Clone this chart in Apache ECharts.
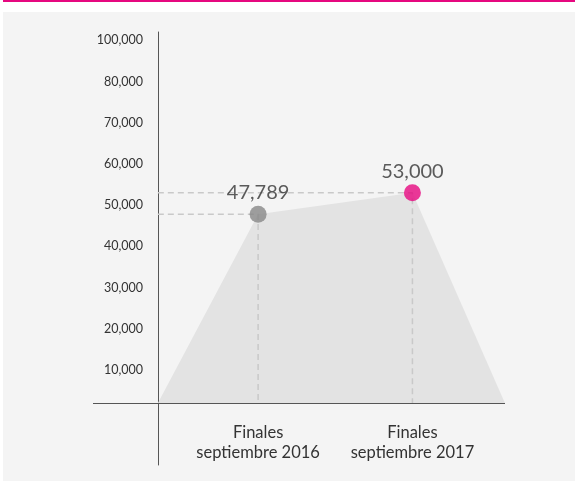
<!DOCTYPE html>
<html>
<head>
<meta charset="utf-8">
<script src="https://cdn.jsdelivr.net/npm/echarts@6/dist/echarts.min.js"></script>
<style>
  html, body { margin: 0; padding: 0; background: #ffffff; }
  #bar { position: absolute; left: 3px; top: 0; width: 572px; height: 2px; background: #e6087f; }
  #panel { position: absolute; left: 3px; top: 12px; width: 572px; height: 469px; background: #f4f4f4; }
  #chart { position: absolute; left: 0; top: 0; width: 575px; height: 481px; }
</style>
</head>
<body>
<div id="bar"></div>
<div id="panel"></div>
<div id="chart"></div>
<script>
// ---- data ----
var categories = ['Finales\nseptiembre 2016', 'Finales\nseptiembre 2017'];
var categoryX = [0.65, 1.65];          // x positions of the two dates on the axis
var values = [47789, 53000];
var pointColors = ['#878787', '#e6087f'];
var startX = 0, endX = 2.25;            // where the shaded shape starts / ends
var baseline = 2000;                     // value where the horizontal axis crosses
var yTickValues = [10000, 20000, 30000, 40000, 50000, 60000, 70000, 80000, 90000];
var yTickLabels = ['10,000', '20,000', '30,000', '40,000', '50,000', '60,000', '70,000', '80,000', '100,000'];

var FONT = 'Lato, "Noto Sans", sans-serif';

var areaData = [[startX, baseline]];
for (var i = 0; i < values.length; i++) areaData.push([categoryX[i], values[i]]);
areaData.push([endX, baseline]);

var series = [{
  type: 'line',
  data: areaData,
  symbol: 'none',
  silent: true,
  lineStyle: { width: 0 },
  areaStyle: { color: '#e3e3e3', opacity: 1, origin: baseline },
  z: 1,
  markLine: {
    silent: true,
    symbol: 'none',
    label: { show: false },
    lineStyle: { type: 'solid', color: '#555555', width: 1 },
    data: [{ yAxis: baseline }]
  }
}];

for (var j = 0; j < values.length; j++) {
  series.push({
    type: 'line',
    data: [[0, values[j]], [categoryX[j], values[j]], [categoryX[j], baseline]],
    symbol: 'none',
    silent: true,
    lineStyle: { color: '#c9c9c9', width: 1.5, type: [6, 4] },
    z: 2
  });
}

series.push({
  type: 'scatter',
  data: values.map(function (v, k) {
    return { value: [categoryX[k], v], itemStyle: { color: pointColors[k] } };
  }),
  symbolSize: 17,
  z: 5,
  label: {
    show: true,
    position: 'top',
    distance: 3,
    fontFamily: FONT,
    fontSize: 20,
    color: '#333333',
    formatter: function (p) { return p.value[1].toLocaleString('en-US'); }
  }
});

var chart = echarts.init(document.getElementById('chart'), null, { renderer: 'canvas' });
chart.setOption({
  backgroundColor: 'transparent',
  animation: false,
  grid: { left: 93, right: 70, top: 32, bottom: 16, containLabel: false, outerBoundsMode: 'none' },
  xAxis: {
    type: 'value',
    min: -0.42,
    max: 2.25,
    position: 'bottom',
    offset: -54,
    axisLine: { show: false, onZero: false },
    axisTick: { show: false },
    splitLine: { show: false },
    axisLabel: {
      customValues: categoryX,
      margin: 12,
      fontFamily: FONT,
      fontSize: 16.5,
      lineHeight: 20,
      color: '#333333',
      formatter: function (v) {
        var idx = categoryX.indexOf(v);
        return idx >= 0 ? categories[idx] : '';
      }
    }
  },
  yAxis: {
    type: 'value',
    min: -13000,
    max: 92000,
    position: 'left',
    offset: -65,
    axisLine: { show: true, onZero: false, lineStyle: { color: '#555555', width: 1 } },
    axisTick: { show: false },
    splitLine: { show: false },
    axisLabel: {
      customValues: yTickValues,
      margin: 15,
      fontFamily: FONT,
      fontSize: 12.5,
      color: '#333333',
      formatter: function (v) {
        var idx = yTickValues.indexOf(v);
        return idx >= 0 ? yTickLabels[idx] : '';
      }
    }
  },
  series: series
});
</script>
</body>
</html>
